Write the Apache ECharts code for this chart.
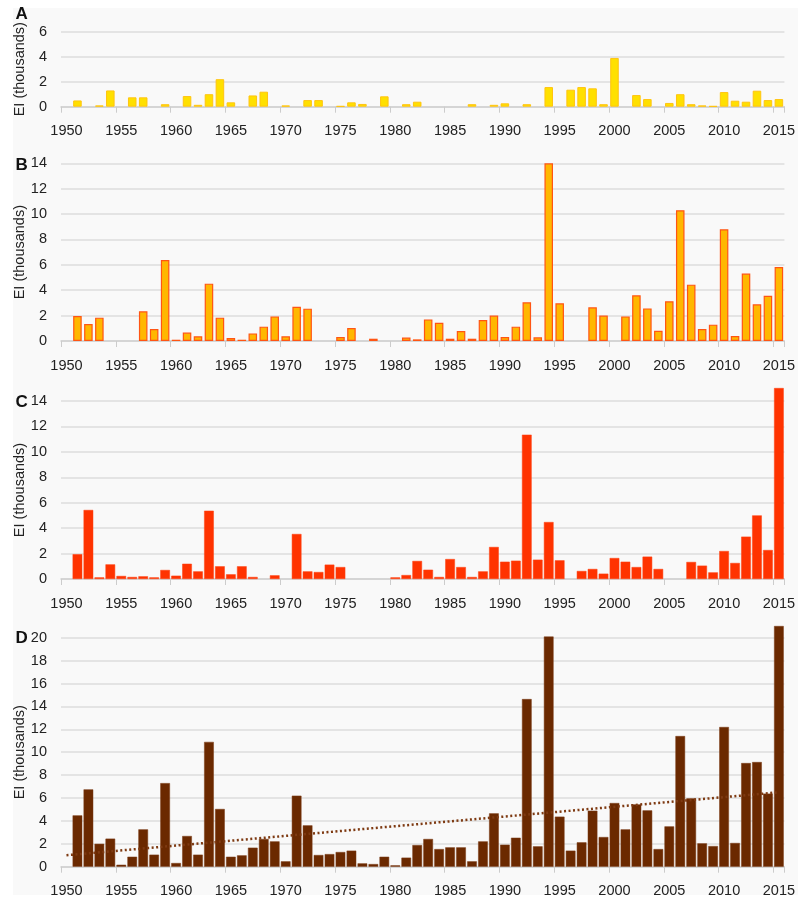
<!DOCTYPE html>
<html>
<head>
<meta charset="utf-8">
<script src="https://cdn.jsdelivr.net/npm/echarts@6/dist/echarts.min.js"></script>
<style>
html,body{margin:0;padding:0;background:#ffffff;}
#chart{width:798px;height:899px;}
</style>
</head>
<body>
<div id="chart"></div>
<script>
// Years 1950-2015
var years = [];
for (var y = 1950; y <= 2015; y++) years.push(String(y));

// null = no bar that year
var N = null;
// Panel A
var valuesA = [N,0.5,N,0.1,1.3,N,0.75,0.75,N,0.2,
  N,0.85,0.15,1.0,2.2,0.35,N,0.9,1.2,N,
  0.1,N,0.53,0.53,N,0.05,0.35,0.22,N,0.83,
  N,0.2,0.4,N,N,N,N,0.2,N,0.15,
  0.27,N,0.2,N,1.57,N,1.36,1.57,1.47,0.2,
  3.9,N,0.93,0.61,N,0.3,1.0,0.2,0.1,0.05,
  1.17,0.48,0.4,1.28,0.53,0.61];
// Panel B
var valuesB = [N,1.97,1.34,1.84,N,N,N,2.34,0.95,6.38,
  0.1,0.66,0.37,4.52,1.84,0.24,0.1,0.6,1.13,1.94,
  0.37,2.7,2.55,N,N,0.32,1.02,N,0.18,N,
  N,0.27,0.13,1.7,1.44,0.18,0.79,0.18,1.65,2.0,
  0.32,1.13,3.05,0.29,14.0,2.97,N,N,2.65,2.0,
  N,1.94,3.6,2.57,0.81,3.13,10.3,4.44,0.95,1.29,
  8.8,0.39,5.31,2.89,3.57,5.83];
// Panel C
var valuesC = [N,1.95,5.43,0.13,1.15,0.24,0.16,0.21,0.13,0.71,
  0.26,1.2,0.6,5.37,1.0,0.37,1.0,0.16,N,0.29,
  N,3.54,0.6,0.55,1.13,0.94,N,N,N,N,
  0.13,0.31,1.42,0.73,0.16,1.57,0.94,0.16,0.6,2.52,
  1.36,1.44,11.35,1.52,4.48,1.47,N,0.63,0.79,0.42,
  1.65,1.36,0.94,1.76,0.79,N,N,1.34,1.05,0.52,
  2.2,1.26,3.33,5.0,2.28,15.02];
// Panel D
var valuesD = [N,4.48,6.75,2.0,2.45,0.17,0.87,3.26,1.05,7.3,
  0.32,2.68,1.05,10.9,5.04,0.87,0.99,1.66,2.42,2.21,
  0.47,6.2,3.61,1.02,1.1,1.28,1.4,0.29,0.23,0.87,
  0.12,0.79,1.89,2.42,1.54,1.69,1.69,0.47,2.21,4.66,
  1.92,2.53,14.64,1.78,20.1,4.37,1.4,2.13,4.89,2.59,
  5.56,3.26,5.44,4.92,1.54,3.52,11.41,5.97,2.04,1.8,
  12.2,2.07,9.05,9.14,6.38,21.02];
// Trend line endpoints for panel D (1950 and 2015)
var trendStart = 1.0, trendEnd = 6.5;
var trendD = years.map(function (yr, i) {
  if (i === 0) return trendStart;
  if (i === years.length - 1) return trendEnd;
  return null;
});

var panelLetters = ['A', 'B', 'C', 'D'];
var yMax = [6, 14, 14, 20];
var yInterval = [2, 2, 2, 2];

var grids = [
  {top: 31.7, height: 75},
  {top: 163.3, height: 177.7},
  {top: 401, height: 178},
  {top: 637.7, height: 229}
];
var letterY = [14.5, 165, 402.5, 638.5];

var FONT = 'Liberation Sans, Arial, sans-serif';
var FS = 14.5;

var option = {
  animation: false,
  backgroundColor: '#ffffff',
  graphic: [{
    type: 'rect', z: -10, silent: true,
    shape: {x: 13, y: 8, width: 785, height: 887},
    style: {fill: '#f9f9f9'}
  }].concat(panelLetters.map(function (l, i) {
    return {
      type: 'text', x: 15.5, y: letterY[i],
      style: {text: l, font: 'bold 17px ' + FONT, fill: '#111', verticalAlign: 'middle', align: 'left'}
    };
  })),
  grid: grids.map(function (g) {
    return {left: 61, right: 11, top: g.top, height: g.height, containLabel: false};
  }),
  xAxis: grids.map(function (g, i) {
    return {
      type: 'category', gridIndex: i, data: years, boundaryGap: true,
      axisLine: {show: true, lineStyle: {color: '#d0d0d0', width: 1.5}},
      axisTick: {show: true, alignWithLabel: false, length: 6,
        interval: function (idx) { return idx % 5 === 0; },
        lineStyle: {color: '#cccccc'}},
      axisLabel: {
        interval: function (idx) { return idx % 5 === 0; },
        margin: 17, fontSize: FS, color: '#222', fontFamily: FONT
      },
      splitLine: {show: false}
    };
  }),
  yAxis: grids.map(function (g, i) {
    return {
      type: 'value', gridIndex: i, min: 0, max: yMax[i], interval: yInterval[i],
      name: 'EI (thousands)', nameLocation: 'middle', nameGap: 34, nameMoveOverlap: false,
      nameTextStyle: {fontSize: FS, color: '#222', fontFamily: FONT},
      axisLine: {show: false}, axisTick: {show: false},
      axisLabel: {margin: 14, fontSize: FS, color: '#222', fontFamily: FONT},
      splitLine: {show: true, lineStyle: {color: '#dcdcdc', width: 1.5}}
    };
  }),
  series: [
    {type: 'bar', xAxisIndex: 0, yAxisIndex: 0, data: valuesA, barWidth: '78%',
      clip: false,
      itemStyle: {color: '#ffe000', borderColor: '#ffc410', borderWidth: 1}},
    {type: 'bar', xAxisIndex: 1, yAxisIndex: 1, data: valuesB, barWidth: '78%',
      clip: false,
      itemStyle: {color: '#ffb700', borderColor: '#ff5514', borderWidth: 1.2}},
    {type: 'bar', xAxisIndex: 2, yAxisIndex: 2, data: valuesC, barWidth: '88%',
      clip: false,
      itemStyle: {color: '#ff3300', borderColor: '#ff4010', borderWidth: 0.5}},
    {type: 'bar', xAxisIndex: 3, yAxisIndex: 3, data: valuesD, barWidth: '88%',
      clip: false,
      itemStyle: {color: '#6b2900', borderColor: '#7a3a14', borderWidth: 0.5}},
    {type: 'line', xAxisIndex: 3, yAxisIndex: 3, data: trendD, connectNulls: true,
      symbol: 'none', silent: true, z: 5,
      lineStyle: {color: '#7e3a12', width: 2.5, type: [2, 2.5]}}
  ]
};

var chart = echarts.init(document.getElementById('chart'), null, {renderer: 'canvas'});
chart.setOption(option);
</script>
</body>
</html>
